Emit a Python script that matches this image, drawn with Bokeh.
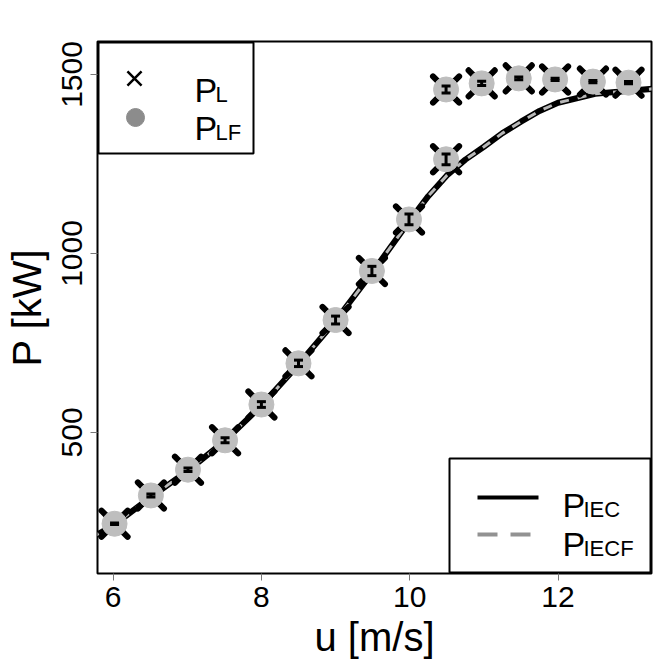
from bokeh.plotting import figure
from bokeh.models import Range1d, FixedTicker, ColumnDataSource, Label
from bokeh.embed import file_html
from bokeh.resources import INLINE

# ---- data ----
u_pts = [6.02, 6.51, 7.01, 7.51, 8.00, 8.50, 9.00, 9.49, 9.99, 10.49,
         10.49, 10.97, 11.47, 11.96, 12.47, 12.95]
P_L = [245, 324, 396, 478, 578, 693, 814, 951, 1095, 1263,
       1458, 1475, 1489, 1486, 1480, 1477]
P_LF = [245, 324, 396, 478, 578, 693, 814, 951, 1095, 1263,
        1458, 1475, 1489, 1486, 1480, 1477]
P_err = [2, 4, 5, 7, 8, 9, 11, 13, 15, 15,
         10, 6, 4, 3, 3, 3]

u_curve = [5.70, 6.0, 6.5, 7.0, 7.5, 8.0, 8.5, 9.0, 9.5, 10.0, 10.25, 10.5,
           10.75, 11.0, 11.25, 11.5, 11.75, 12.0, 12.5, 13.0, 13.4]
P_IEC = [205, 240, 318, 392, 475, 575, 690, 812, 948, 1092, 1160, 1218,
         1262, 1298, 1336, 1368, 1398, 1421, 1446, 1455, 1462]
P_IECF = [205, 240, 318, 392, 475, 575, 690, 812, 948, 1092, 1160, 1218,
          1262, 1298, 1336, 1368, 1398, 1421, 1446, 1455, 1462]

x_ticks = [6, 8, 10, 12]
y_ticks = [500, 1000, 1500]

# ---- layout constants ----
X0, X1 = 5.79, 13.26
Y0, Y1 = 106, 1592
FL, FR, FT, FB = 97, 651, 41, 573   # frame in screenshot pixels
FW, FH = FR - FL, FB - FT
FONT = "Liberation Sans"
CAP_PX = 9


def ux(px):
    return X0 + (px - FL) / FW * (X1 - X0)


def uy(py):
    return Y1 - (py - FT) / FH * (Y1 - Y0)


p = figure(frame_width=FW, frame_height=FH, output_backend="svg",
           toolbar_location=None, x_range=Range1d(X0, X1), y_range=Range1d(Y0, Y1),
           min_border_left=FL, min_border_top=FT, min_border_right=6,
           min_border_bottom=82)
p.grid.visible = False
p.outline_line_color = "black"
p.outline_line_width = 2
p.background_fill_color = "white"

for ax in (p.xaxis[0], p.yaxis[0]):
    ax.axis_line_color = None
    ax.major_tick_in = 0
    ax.major_tick_out = 7
    ax.major_tick_line_color = "#777777"
    ax.minor_tick_line_color = None
    ax.major_label_text_font = FONT
    ax.major_label_text_font_size = "30px"
    ax.major_label_text_color = "black"
    ax.axis_label_text_font = FONT
    ax.axis_label_text_font_size = "40px"
    ax.axis_label_text_font_style = "normal"
    ax.axis_label_text_color = "black"

p.xaxis.ticker = FixedTicker(ticks=x_ticks)
p.yaxis.ticker = FixedTicker(ticks=y_ticks)
p.xaxis.axis_label = "u [m/s]"
p.yaxis.axis_label = "P [kW]"
p.yaxis.major_label_orientation = "vertical"
p.xaxis.major_label_standoff = 6
p.yaxis.major_label_standoff = 8
p.xaxis.axis_label_standoff = 5
p.yaxis.axis_label_standoff = 11

# curves
p.line(u_curve, P_IEC, line_color="black", line_width=6)
p.line(u_curve, P_IECF, line_color="#B8B8B8", line_width=3, line_dash="9 9")

# points
lo = [a - e for a, e in zip(P_LF, P_err)]
hi = [a + e for a, e in zip(P_LF, P_err)]
cw = CAP_PX / FW * (X1 - X0) / 2
src = ColumnDataSource(dict(u=u_pts, pl=P_L, plf=P_LF, lo=lo, hi=hi,
                            ul=[x - cw for x in u_pts], ur=[x + cw for x in u_pts]))
p.scatter("u", "pl", source=src, marker="x", size=37, line_color="black", line_width=6,
          line_cap="round")
p.scatter("u", "plf", source=src, marker="circle", size=25, fill_color="#BEBEBE",
          line_color="#BEBEBE", line_width=1)
p.segment(x0="u", y0="lo", x1="u", y1="hi", source=src, line_color="black", line_width=3)
p.segment(x0="ul", y0="lo", x1="ur", y1="lo", source=src, line_color="black", line_width=3)
p.segment(x0="ul", y0="hi", x1="ur", y1="hi", source=src, line_color="black", line_width=3)

# legend 1 (top left)
p.quad(left=[ux(98)], right=[ux(253)], top=[uy(42)], bottom=[uy(153)],
       fill_color="white", line_color="black", line_width=2)
p.scatter([ux(134)], [uy(78)], marker="x", size=20, line_color="black", line_width=2.5)
p.scatter([ux(135)], [uy(117)], marker="circle", size=18, fill_color="#8C8C8C",
          line_color="#8C8C8C")

# legend 2 (bottom right)
p.quad(left=[ux(449)], right=[ux(650)], top=[uy(458)], bottom=[uy(572)],
       fill_color="white", line_color="black", line_width=2)
p.line([ux(477), ux(538)], [uy(497), uy(497)], line_color="black", line_width=4)
p.line([ux(477), ux(538)], [uy(534), uy(534)], line_color="#929292", line_width=4,
       line_dash="20 13")


def sub_label(x, y, main, sub):
    p.add_layout(Label(x=ux(x), y=uy(y), text=main, text_font=FONT,
                       text_font_size="34px", text_baseline="alphabetic",
                       text_color="black"))
    p.add_layout(Label(x=ux(x + 21), y=uy(y + 5), text=sub, text_font=FONT,
                       text_font_size="22px", text_baseline="alphabetic",
                       text_color="black"))


sub_label(194, 89, "P", "L")
sub_label(194, 127, "P", "LF")
sub_label(562, 504, "P", "IEC")
sub_label(562, 543, "P", "IECF")

open("out.html", "w").write(file_html(p, INLINE))
